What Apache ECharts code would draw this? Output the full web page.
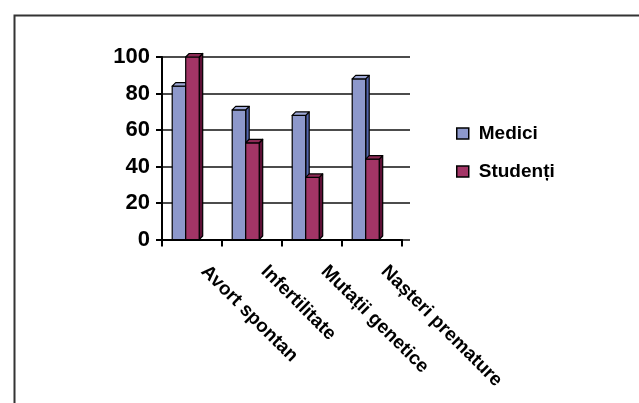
<!DOCTYPE html>
<html>
<head>
<meta charset="utf-8">
<script src="https://cdn.jsdelivr.net/npm/echarts@6/dist/echarts.min.js"></script>
<style>
  html, body { margin: 0; padding: 0; background: #fff; }
  #chart { width: 639px; height: 403px; }
</style>
</head>
<body>
<div id="chart"></div>
<script>
// Categories and the two respondent groups
const categories = ['Avort spontan', 'Infertilitate', 'Mutații genetice', 'Nașteri premature'];
const medici = [84, 71, 68, 88];
const studenti = [100, 53, 34, 44];
const seriesNames = ['Medici', 'Studenți'];

const FONT = '"Liberation Sans", Arial, sans-serif';

// Colours for the faces of the pseudo-3D columns: front, top, side
const palette = {
  'Medici':   { front: '#8d98cb', top: '#9ea8d6', side: '#5264ab' },
  'Studenți': { front: '#a33566', top: '#8c2a55', side: '#5e1035' }
};

// Draws one column with a front face, a top face and a right side face
function makeRenderer(name, slot) {
  const c = palette[name];
  return function (params, api) {
    const cat = api.value(0);
    const val = api.value(1);
    const top = api.coord([cat, val]);
    const base = api.coord([cat, 0]);
    const band = api.size([1, 0])[0];
    const bw = band * 0.225;
    const left = top[0] - band * 0.33 + slot * bw;
    const right = left + bw;
    const yt = top[1], yb = base[1];
    const dx = 3.5, dy = -3.5;
    const stroke = { stroke: '#000', lineWidth: 1.2, lineJoin: 'round' };
    return {
      type: 'group',
      children: [
        { type: 'polygon', shape: { points: [[right, yt], [right + dx, yt + dy], [right + dx, yb + dy], [right, yb]] },
          style: Object.assign({ fill: c.side }, stroke) },
        { type: 'rect', shape: { x: left, y: yt, width: bw, height: yb - yt },
          style: Object.assign({ fill: c.front }, stroke) },
        { type: 'polygon', shape: { points: [[left, yt], [left + dx, yt + dy], [right + dx, yt + dy], [right, yt]] },
          style: Object.assign({ fill: c.top }, stroke) }
      ]
    };
  };
}

const chart = echarts.init(document.getElementById('chart'), null, { renderer: 'canvas' });

const option = {
  backgroundColor: '#fff',
  animation: false,
  textStyle: { fontFamily: FONT },
  graphic: [{
    type: 'rect', left: 12, top: 13, silent: true,
    shape: { width: 700, height: 500 },
    style: { fill: 'none', stroke: '#333', lineWidth: 2 }
  }],
  grid: [
    { left: 162, top: 57, width: 248, height: 182.5 },
    { left: 162, top: 57, width: 240, height: 182.5 }
  ],
  xAxis: [
    { gridIndex: 0, type: 'value', show: false, min: 0, max: 1 },
    {
      gridIndex: 1, type: 'category', data: categories, boundaryGap: true,
      axisLine: { lineStyle: { color: '#000', width: 2 } },
      axisTick: { show: true, length: 7, alignWithLabel: false, lineStyle: { color: '#000', width: 2 } },
      axisLabel: {
        rotate: -45, margin: 17, interval: 0, padding: [0, 0, 0, 17],
        color: '#000', fontWeight: 'bold', fontSize: 19, fontFamily: FONT
      }
    }
  ],
  yAxis: [
    {
      gridIndex: 0, type: 'value', min: 0, max: 100, interval: 20,
      axisLine: { show: true, lineStyle: { color: '#000', width: 2 } },
      axisTick: { show: true, length: 6, lineStyle: { color: '#000', width: 2 } },
      splitLine: { show: true, lineStyle: { color: '#111', width: 1.5 } },
      axisLabel: { color: '#000', fontWeight: 'bold', fontSize: 22, margin: 12, fontFamily: FONT }
    },
    { gridIndex: 1, type: 'value', min: 0, max: 100, show: false, splitLine: { show: false } }
  ],
  legend: {
    orient: 'vertical', left: 456, top: 124, padding: 0,
    itemWidth: 12, itemHeight: 11, itemGap: 19, icon: 'rect',
    textStyle: { color: '#000', fontWeight: 'bold', fontSize: 19, fontFamily: FONT, padding: [0, 0, 0, 5] },
    data: seriesNames.map(n => ({
      name: n,
      itemStyle: { color: palette[n].front, borderColor: '#000', borderWidth: 1.5 }
    }))
  },
  series: [
    {
      name: seriesNames[0], type: 'custom', xAxisIndex: 1, yAxisIndex: 1,
      itemStyle: { color: palette['Medici'].front },
      renderItem: makeRenderer('Medici', 0),
      encode: { x: 0, y: 1 },
      data: medici.map((v, i) => [i, v])
    },
    {
      name: seriesNames[1], type: 'custom', xAxisIndex: 1, yAxisIndex: 1,
      itemStyle: { color: palette['Studenți'].front },
      renderItem: makeRenderer('Studenți', 1),
      encode: { x: 0, y: 1 },
      data: studenti.map((v, i) => [i, v])
    }
  ]
};

chart.setOption(option);
</script>
</body>
</html>
